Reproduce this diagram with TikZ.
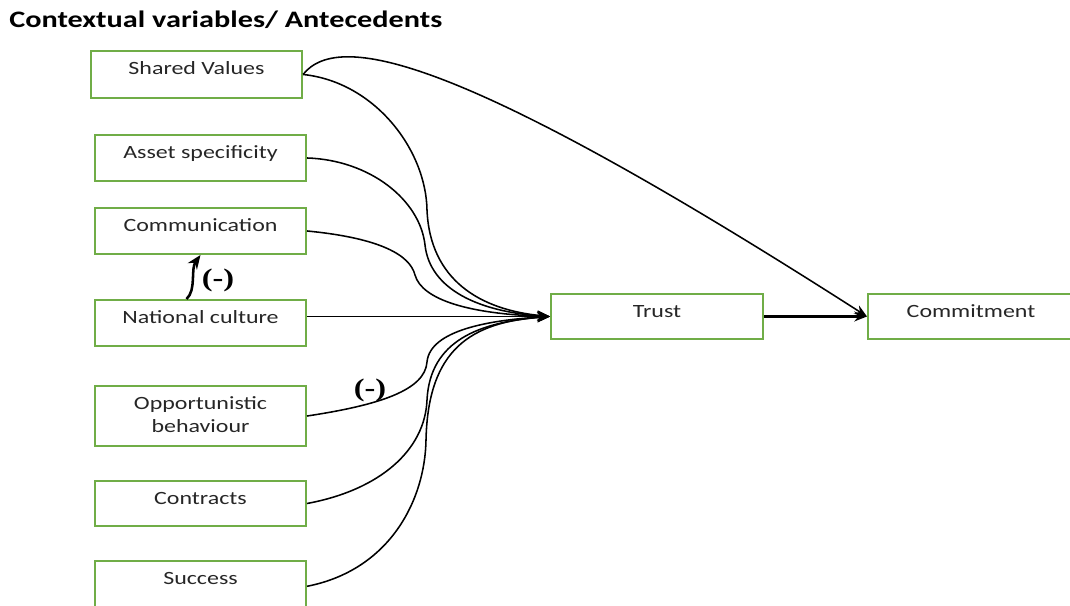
\documentclass[tikz,border=0pt]{standalone}
\usepackage{fontspec}
\usepackage{tikz}
\usetikzlibrary{arrows.meta,positioning}
\setmainfont{Carlito}
\newfontfamily\boxfont[FakeStretch=1.28]{Carlito}
\newfontfamily\minusfont[FakeStretch=1.28]{Liberation Serif}
\definecolor{boxgreen}{HTML}{70AD47}
\definecolor{boxtext}{HTML}{262626}
\tikzset{
  varbox/.style={draw=boxgreen, line width=1.4pt, anchor=north west, minimum width=5.275cm,
    inner ysep=0pt, text height=17pt, text depth=#1, align=center, text=boxtext,
    font=\boxfont\fontsize{13.3pt}{17pt}\selectfont},
  link/.style={black, line width=1.1pt, -{Stealth[length=9pt,width=7pt]}},
  signlabel/.style={font=\minusfont\bfseries\fontsize{18pt}{20pt}\selectfont, inner sep=0pt}
}
\begin{document}
\begin{tikzpicture}[x=0.025cm, y=-0.025cm]
  \useasboundingbox (0,0) rectangle (1070,605);
  \node[anchor=base west, inner sep=0pt, font=\boxfont\bfseries\fontsize{16.8pt}{19pt}\selectfont] (title) at (9,27) {Contextual variables/ Antecedents};
  % antecedents
  \node[varbox=16.4pt] (shared) at (90,50) {Shared Values};
  \node[varbox=15.7pt] (asset) at (94,134) {Asset specificity};
  \node[varbox=15.7pt] (comm) at (94,207) {Communication};
  \node[varbox=15.7pt] (natl) at (94,299) {National culture};
  \node[varbox=9.3pt, text height=33.4pt] (opp) at (94,385) {Opportunistic\\behaviour};
  \node[varbox=15pt] (contr) at (94,480) {Contracts};
  \node[varbox=19pt] (succ) at (94,560) {Success};
  % outcomes
  \node[varbox=15pt, minimum width=5.3cm] (trust) at (550,293) {Trust};
  \node[varbox=15pt, minimum width=5.15cm] (commit) at (867,293) {Commitment};
  % links into trust
  \draw[link] (shared.east) .. controls (375,82) and (426,150) .. (427,210) .. controls (430,280) and (480,310) .. (trust.west);
  \draw[link] (asset.east) .. controls (370,160) and (420,200) .. (425,245) .. controls (430,290) and (480,312) .. (trust.west);
  \draw[link] (comm.east) .. controls (380,238) and (410,255) .. (415,275) .. controls (422,300) and (470,314) .. (trust.west);
  \draw[link] (natl.east |- trust.west) -- (trust.west);
  \draw[link] (opp.east) .. controls (380,405) and (425,390) .. (427,362) .. controls (430,330) and (490,320) .. (trust.west);
  \draw[link] (contr.east) .. controls (380,490) and (425,450) .. (427,400) .. controls (430,340) and (480,322) .. (trust.west);
  \draw[link] (succ.east) .. controls (390,570) and (425,500) .. (426,440) .. controls (428,350) and (470,322) .. (trust.west);
  % links into commitment
  \draw[link] (shared.east) .. controls (340,28) and (470,62) .. (commit.west);
  \draw[link, line width=1.5pt] (trust.east) -- (commit.west);
  % culture weakens communication
  \draw[link, line width=1.8pt, -{Stealth[length=10pt,width=8pt]}] (natl.north) ++(-14,0) coordinate (nc) .. controls +(10,-9) and +(-10,14) .. (comm.south);
  \node[signlabel] (neg1) at (218,280) {(-)};
  \node[signlabel] (neg2) at (370,390) {(-)};
\end{tikzpicture}
\end{document}
